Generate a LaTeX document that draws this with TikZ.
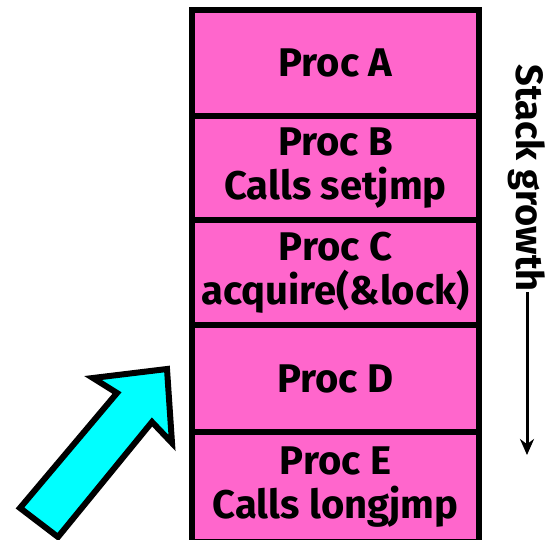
\documentclass[tikz,border=0pt]{standalone}
\usepackage{fontspec}
\setmainfont{Fira Sans}
\usetikzlibrary{arrows.meta}

\definecolor{framepink}{RGB}{255,102,204}
\definecolor{jumpcyan}{RGB}{0,255,255}

\tikzset{
	frame/.style={draw=black, fill=framepink, line width=6pt, minimum width=287pt,
		inner sep=0pt, align=center, font=\fontsize{40}{44}\selectfont\bfseries},
}

\begin{document}
\begin{tikzpicture}[x=1pt, y=1pt]
	\useasboundingbox (0,0) rectangle (549,539);
	\def\cx{335.5} % center of the stack
	
	% stack frames, top to bottom
	\node[frame, minimum height=106pt] (procA) at (\cx, 476) {Proc A};
	\node[frame, minimum height=104pt] (procB) at (\cx, 371) {Proc B\\Calls setjmp};
	\node[frame, minimum height=105pt] (procC) at (\cx, 266.5) {Proc C\\acquire(\&lock)};
	\node[frame, minimum height=107pt] (procD) at (\cx, 160.5) {Proc D};
	\node[frame, minimum height=110pt] (procE) at (\cx, 52) {Proc E\\Calls longjmp};
	
	% growth label and arrow
	\node[rotate=-90, inner sep=0pt, font=\fontsize{38}{40}\selectfont\bfseries] (growth) at (527, 361) {Stack growth};
	\coordinate (gend) at (527, 84);
	\draw[-{Stealth[length=16pt, width=14pt]}, line width=3pt] (growth.east) -- (gend);
	
	% jump arrow
	\draw[fill=jumpcyan, line width=6pt, line join=miter]
	(20,31) -- (58,2) -- (152,117) -- (172,96) -- (167,170)
	-- (93,161) -- (117,146) -- cycle;
\end{tikzpicture}
\end{document}
